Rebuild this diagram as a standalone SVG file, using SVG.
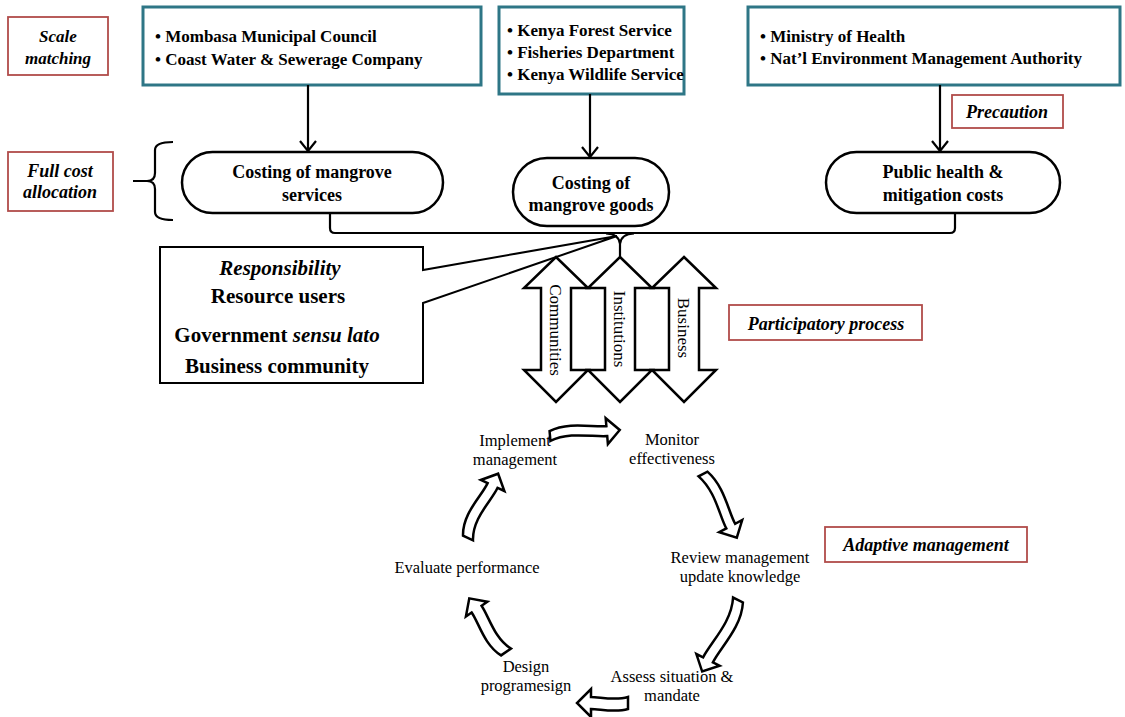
<svg xmlns="http://www.w3.org/2000/svg" width="1125" height="717" viewBox="0 0 1125 717">
<style>
.bg{fill:#fff}
.red{fill:#fff;stroke:#b14c4a;stroke-width:1.8}
.teal{fill:#fff;stroke:#2e7686;stroke-width:3}
.pill{fill:#fff;stroke:#000;stroke-width:2.5}
.ln{fill:none;stroke:#000;stroke-width:2.2}
.blk{fill:#fff;stroke:#000;stroke-width:2.5;stroke-linejoin:miter}
.lab{font-family:"Liberation Serif","Times New Roman",serif;font-style:italic;font-weight:bold;fill:#000;text-anchor:middle}
.box{font-family:"Liberation Serif","Times New Roman",serif;font-weight:bold;font-size:17px;fill:#000}
.el{font-family:"Liberation Serif","Times New Roman",serif;font-weight:bold;font-size:18px;fill:#000;text-anchor:middle}
.cy{font-family:"Liberation Serif","Times New Roman",serif;font-size:16.5px;fill:#000;text-anchor:middle}
.rs{font-family:"Liberation Serif","Times New Roman",serif;font-size:21px;font-weight:bold;fill:#000;text-anchor:middle}
.vt{font-family:"Liberation Serif","Times New Roman",serif;font-size:17px;fill:#000;text-anchor:middle}
</style>
<defs>
<marker id="v" viewBox="0 0 12 18" refX="11" refY="9" markerWidth="12" markerHeight="18" markerUnits="userSpaceOnUse" orient="auto">
<path d="M1,1 L11,9 L1,17" fill="none" stroke="#000" stroke-width="2.2"/>
</marker>
</defs>
<rect class="bg" x="0" y="0" width="1125" height="717"/>

<g id="scale-matching">
<rect class="red" x="8" y="17" width="100" height="58"/>
<text class="lab" x="58" y="42" font-size="17">Scale</text>
<text class="lab" x="58" y="64" font-size="17">matching</text>
</g>
<g id="full-cost">
<rect class="red" x="8" y="152" width="105" height="59"/>
<text class="lab" x="60" y="177" font-size="18">Full cost</text>
<text class="lab" x="60" y="198" font-size="18">allocation</text>
</g>
<g id="brace">
<path class="ln" d="M173,142 Q155,142 155,150 L155,173 Q155,181 147,181 L133,181 M147,181 Q155,181 155,189 L155,212 Q155,220 173,220"/>
</g>

<g id="box-municipal">
<rect class="teal" x="143" y="7" width="338" height="78"/>
<text class="box" x="155" y="42">• Mombasa Municipal Council</text>
<text class="box" x="155" y="65">• Coast Water &amp; Sewerage Company</text>
</g>
<g id="box-forest">
<rect class="teal" x="499" y="7" width="185" height="87"/>
<text class="box" x="507" y="36">• Kenya Forest Service</text>
<text class="box" x="507" y="58">• Fisheries Department</text>
<text class="box" x="507" y="80">• Kenya Wildlife Service</text>
</g>
<g id="box-health">
<rect class="teal" x="748" y="7" width="372" height="78"/>
<text class="box" x="760" y="42">• Ministry of Health</text>
<text class="box" x="760" y="64">• Nat’l Environment Management Authority</text>
</g>
<g id="precaution">
<rect class="red" x="952" y="95" width="111" height="33"/>
<text class="lab" x="1007" y="118" font-size="18">Precaution</text>
</g>

<g id="costing-services">
<rect class="pill" x="182" y="152" width="261" height="61" rx="30.5"/>
<text class="el" x="312" y="178">Costing of mangrove</text>
<text class="el" x="312" y="201">services</text>
</g>
<g id="costing-goods">
<rect class="pill" x="513" y="158" width="156" height="68" rx="34"/>
<text class="el" x="591" y="189">Costing of</text>
<text class="el" x="591" y="211">mangrove goods</text>
</g>
<g id="public-health">
<rect class="pill" x="826" y="152" width="234" height="61" rx="30.5"/>
<text class="el" x="943" y="178">Public health &amp;</text>
<text class="el" x="943" y="201">mitigation costs</text>
</g>

<g id="connectors">
<line class="ln" x1="308" y1="85" x2="308" y2="151" marker-end="url(#v)"/>
<line class="ln" x1="590" y1="94" x2="590" y2="157" marker-end="url(#v)"/>
<line class="ln" x1="940" y1="85" x2="940" y2="151" marker-end="url(#v)"/>
<path class="ln" d="M330,213 L330,228 Q330,233 335,233 L950,233 Q955,233 955,228 L955,213"/>
<path class="ln" d="M606,233.5 Q619,234 620,244 L620,258 M634,233.5 Q621,234 620,244"/>
</g>

<g id="responsibility">
<path d="M160,247 L423,247 L423,270 L617,236 L423,303 L423,383 L160,383 Z" fill="#fff" stroke="#000" stroke-width="2"/>
<text class="rs" x="280" y="275" font-weight="normal" font-style="italic">Responsibility</text>
<text class="rs" x="278" y="303">Resource users</text>
<text class="rs" x="277" y="342">Government <tspan font-style="italic">sensu lato</tspan></text>
<text class="rs" x="277" y="373">Business community</text>
</g>

<g id="participants">
<polygon class="blk" points="556,257 588,288 571,288 571,370 588,370 556,402 524,370 541,370 541,288 524,288"/>
<polygon class="blk" points="620,257 652,288 635,288 635,370 652,370 620,402 588,370 605,370 605,288 588,288"/>
<polygon class="blk" points="684,257 716,288 699,288 699,370 716,370 684,402 652,370 669,370 669,288 652,288"/>
<text class="vt" transform="translate(556,330) rotate(90)" dy="6">Communities</text>
<text class="vt" transform="translate(620,329) rotate(90)" dy="6">Institutions</text>
<text class="vt" transform="translate(684,328) rotate(90)" dy="6">Business</text>
</g>
<g id="participatory">
<rect class="red" x="729" y="305" width="193" height="35"/>
<text class="lab" x="826" y="330" font-size="18">Participatory process</text>
</g>

<g id="cycle-arrows">
<path class="blk" transform="translate(550,436) rotate(-4.9)" d="M0,-5 C20,-13 43,-5 57,-5 L57,-13 L70,0 L57,13 L57,5 C43,5 20,-3 0,5 Z"/>
<path class="blk" transform="translate(703,474) rotate(62)" d="M0,-5 C21,-13 44,-5 59,-5 L59,-13 L72,0 L59,13 L59,5 C44,5 21,-3 0,5 Z"/>
<path class="blk" transform="translate(738,600) rotate(116.6)" d="M0,-5.5 C23,-15.5 50,-5.5 67,-5.5 L67,-13 L80,0 L67,13 L67,5.5 C50,5.5 23,-4.5 0,5.5 Z"/>
<path class="blk" transform="translate(628,703) rotate(180)" d="M0,-6 C13,-10 28,-6 37,-6 L37,-14 L51,0 L37,14 L37,6 C28,6 13,2 0,6 Z"/>
<path class="blk" transform="translate(506,652) rotate(-124.4)" d="M0,-6 C18,-14 39,-6 52,-6 L52,-13 L65,0 L52,13 L52,6 C39,6 18,-2 0,6 Z"/>
<path class="blk" transform="translate(468,538) rotate(-64.9)" d="M0,-5.5 C20,-15.5 43,-5.5 58,-5.5 L58,-13 L71,0 L58,13 L58,5.5 C43,5.5 20,-4.5 0,5.5 Z"/>
</g>

<g id="implement"><text class="cy" x="515" y="446">Implement</text><text class="cy" x="515" y="465">management</text></g>
<g id="monitor"><text class="cy" x="672" y="445">Monitor</text><text class="cy" x="672" y="464">effectiveness</text></g>
<g id="review"><text class="cy" x="740" y="563">Review management</text><text class="cy" x="740" y="582">update knowledge</text></g>
<g id="assess"><text class="cy" x="672" y="682">Assess situation &amp;</text><text class="cy" x="672" y="701">mandate</text></g>
<g id="design"><text class="cy" x="526" y="672">Design</text><text class="cy" x="526" y="691">programesign</text></g>
<g id="evaluate"><text class="cy" x="467" y="573">Evaluate performance</text></g>
<g id="adaptive">
<rect class="red" x="825" y="527" width="202" height="35"/>
<text class="lab" x="926" y="551" font-size="18">Adaptive management</text>
</g>
</svg>
